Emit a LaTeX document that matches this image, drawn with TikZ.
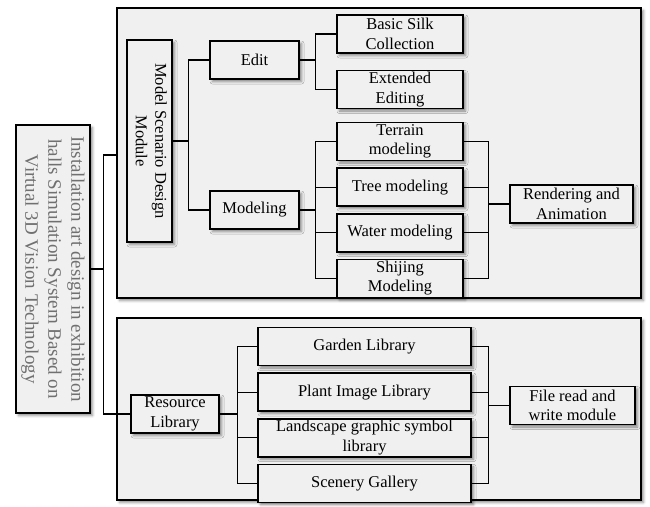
\documentclass[tikz,border=0pt]{standalone}
\usepackage{fontspec}
\setmainfont{Liberation Serif}
\usepackage{xcolor}
\usepackage{graphicx}
\usetikzlibrary{positioning, shadows.blur, calc}

\definecolor{panelgray}{HTML}{F0F0F0}
\definecolor{titlegray}{HTML}{707070}

\begin{document}
\begin{tikzpicture}[x=1pt, y=-1pt,
    shade/.style={blur shadow={shadow xshift=2.5pt, shadow yshift=-2.5pt, shadow blur radius=2.5pt, shadow opacity=45}},
    box/.style={rectangle, draw, line width=1.6pt, fill=panelgray, shade, align=center, inner sep=1pt, minimum height=38pt, font=\rmfamily\fontsize{16.5}{19.5}\selectfont},
    leaf/.style={box, minimum width=126pt},
    lib/.style={box, minimum width=213pt},
    panel/.style={draw, line width=1.6pt, fill=panelgray, shade},
    link/.style={line width=1.2pt}]
    \useasboundingbox (0,0) rectangle (650,506);
    \draw[panel] (117,8) rectangle (641,298);
    \draw[panel] (117,318) rectangle (641,500);

    \node[box, minimum width=74pt, minimum height=288pt, text=titlegray] (title) at (53,269) {\rotatebox{-90}{\fontsize{19}{23}\selectfont\begin{tabular}{@{}c@{}}Installation art design in exhibition\\ halls Simulation System Based on\\ Virtual 3D Vision Technology\end{tabular}}};
    \node[box, minimum width=45pt, minimum height=202pt] (scenario) at (149.5,141) {\rotatebox{-90}{\begin{tabular}{@{}c@{}}Model Scenario Design\\ Module\end{tabular}}};
    \node[box, minimum width=89pt] (edit) at (254.5,60) {Edit};
    \node[box, minimum width=89pt] (modeling) at (254.5,210) {Modeling};
    \node[leaf] (silk) at (400,34) {Basic Silk\\ Collection};
    \node[leaf, below=16pt of silk] (extended) {Extended\\ Editing};
    \node[leaf] (terrain) at (400,141.5) {Terrain\\ modeling};
    \node[leaf, below=6pt of terrain] (tree) {Tree modeling};
    \node[leaf, below=6pt of tree] (water) {Water modeling};
    \node[leaf, below=6pt of water] (shijing) {Shijing\\ Modeling};
    \node[box, minimum width=123pt] (render) at (571.5,204) {Rendering and\\ Animation};

    \node[box, minimum width=88pt] (resource) at (175,414) {Resource\\ Library};
    \node[lib] (garden) at (364.5,346.5) {Garden Library};
    \node[lib, below=6pt of garden] (plant) {Plant Image Library};
    \node[lib, below=6pt of plant] (landscape) {Landscape graphic symbol\\ library};
    \node[lib, below=6pt of landscape] (scenery) {Scenery Gallery};
    \node[box, minimum width=125pt] (fileio) at (572.5,405.5) {File read and\\ write module};

    \coordinate (topin) at (117,155);
    \draw[link] (title.east) -- ++(13,0) |- (topin);
    \draw[link] (title.east) -- ++(13,0) |- (resource.west);
    \draw[link] (scenario.east) -- ++(16,0) |- (edit.west);
    \draw[link] (scenario.east) -- ++(16,0) |- (modeling.west);
    \foreach \n in {silk,extended}
        \draw[link] (edit.east) -- ++(16,0) |- (\n.west);
    \foreach \n in {terrain,tree,water,shijing} {
        \draw[link] (modeling.east) -- ++(16,0) |- (\n.west);
        \draw[link] (\n.east) -- ++(25,0) |- (render.west);
    }
    \foreach \n in {garden,plant,landscape,scenery} {
        \draw[link] (resource.east) -- ++(18,0) |- (\n.west);
        \draw[link] (\n.east) -- ++(17,0) |- (fileio.west);
    }
\end{tikzpicture}
\end{document}
